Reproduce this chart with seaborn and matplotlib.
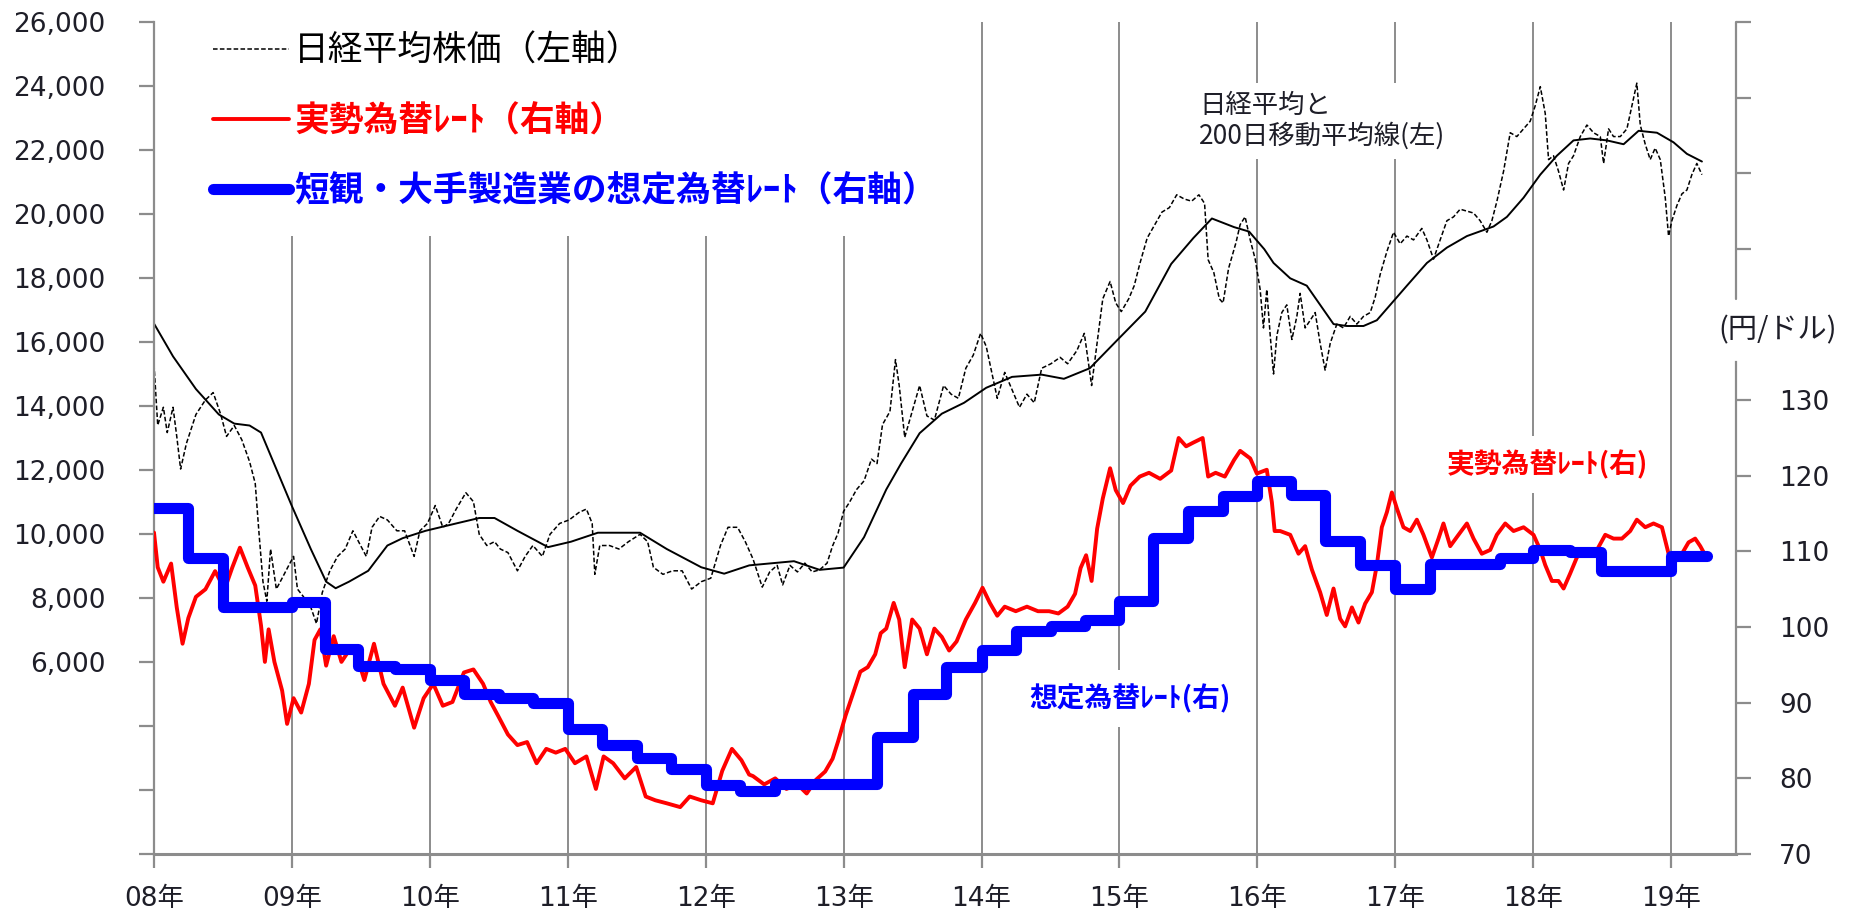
import matplotlib
matplotlib.use('Agg')
import matplotlib.pyplot as plt
import matplotlib.ticker as mticker
from matplotlib.lines import Line2D
import seaborn as sns

# ---- data (decimal years) ----
nikkei_t = [2008.0, 2008.027, 2008.068, 2008.096, 2008.138, 2008.165, 2008.193, 2008.235, 2008.304, 2008.373,
            2008.429, 2008.484, 2008.526, 2008.582, 2008.637, 2008.693, 2008.734, 2008.762, 2008.79, 2008.818,
            2008.845, 2008.887, 2008.929, 2008.97, 2009.012, 2009.04, 2009.081, 2009.137, 2009.178, 2009.22,
            2009.275, 2009.331, 2009.386, 2009.442, 2009.498, 2009.539, 2009.581, 2009.636, 2009.692, 2009.761,
            2009.817, 2009.886, 2009.928, 2009.983, 2010.039, 2010.094, 2010.136, 2010.191, 2010.261, 2010.316,
            2010.358, 2010.413, 2010.469, 2010.511, 2010.566, 2010.635, 2010.691, 2010.747, 2010.816, 2010.871,
            2010.941, 2011.01, 2011.08, 2011.135, 2011.177, 2011.196, 2011.232, 2011.302, 2011.371, 2011.44,
            2011.524, 2011.579, 2011.621, 2011.69, 2011.76, 2011.829, 2011.898, 2011.968, 2012.037, 2012.107,
            2012.162, 2012.231, 2012.287, 2012.343, 2012.41, 2012.464, 2012.518, 2012.558, 2012.611, 2012.665,
            2012.719, 2012.772, 2012.826, 2012.88, 2012.92, 2012.96, 2013.0, 2013.041, 2013.094, 2013.148,
            2013.202, 2013.242, 2013.282, 2013.336, 2013.376, 2013.403, 2013.443, 2013.497, 2013.551, 2013.604,
            2013.658, 2013.725, 2013.779, 2013.832, 2013.886, 2013.94, 2013.993, 2014.034, 2014.074, 2014.114,
            2014.168, 2014.221, 2014.275, 2014.329, 2014.382, 2014.436, 2014.503, 2014.57, 2014.624, 2014.691,
            2014.745, 2014.798, 2014.838, 2014.879, 2014.932, 2014.973, 2015.013, 2015.067, 2015.107, 2015.147,
            2015.201, 2015.254, 2015.308, 2015.362, 2015.415, 2015.469, 2015.523, 2015.576, 2015.617, 2015.643,
            2015.684, 2015.724, 2015.751, 2015.791, 2015.845, 2015.875, 2015.911, 2015.948, 2015.984, 2016.02,
            2016.044, 2016.068, 2016.093, 2016.117, 2016.141, 2016.177, 2016.213, 2016.25, 2016.286, 2016.31,
            2016.346, 2016.383, 2016.419, 2016.455, 2016.491, 2016.528, 2016.576, 2016.624, 2016.673, 2016.721,
            2016.769, 2016.818, 2016.854, 2016.89, 2016.939, 2016.987, 2017.035, 2017.084, 2017.132, 2017.192,
            2017.229, 2017.277, 2017.325, 2017.374, 2017.422, 2017.47, 2017.519, 2017.567, 2017.615, 2017.664,
            2017.7, 2017.736, 2017.785, 2017.833, 2017.881, 2017.93, 2017.978, 2018.014, 2018.051, 2018.087,
            2018.111, 2018.147, 2018.183, 2018.22, 2018.256, 2018.292, 2018.341, 2018.389, 2018.437, 2018.486,
            2018.51, 2018.546, 2018.582, 2018.631, 2018.679, 2018.715, 2018.751, 2018.776, 2018.812, 2018.848,
            2018.884, 2018.921, 2018.957, 2018.981, 2019.005, 2019.042, 2019.078, 2019.114, 2019.15, 2019.186,
            2019.223]
nikkei_v = [15300, 13400, 13960, 13170, 13960, 13050, 12030, 12830, 13735, 14190,
            14420, 13735, 13050, 13390, 12940, 12260, 11580, 9990, 8510, 7900,
            9530, 8280, 8620, 8960, 9300, 8280, 8055, 7710, 7200, 8170,
            8850, 9300, 9530, 10100, 9640, 9300, 10210, 10550, 10440, 10100,
            10100, 9300, 10100, 10330, 10890, 10210, 10330, 10780, 11290, 11010,
            9990, 9640, 9760, 9530, 9420, 8850, 9300, 9640, 9300, 9990,
            10330, 10440, 10670, 10780, 10330, 8740, 9640, 9640, 9530, 9760,
            9990, 9760, 8960, 8740, 8850, 8850, 8280, 8510, 8620, 9640,
            10210, 10210, 9760, 9220, 8340, 8815, 9020, 8410, 9020, 8815,
            9090, 8815, 8880, 9090, 9630, 10030, 10710, 10980, 11390, 11660,
            12340, 12200, 13420, 13830, 15450, 14640, 13020, 13830, 14640, 13690,
            13560, 14640, 14370, 14240, 15180, 15590, 16270, 15860, 15050, 14240,
            15050, 14510, 13960, 14370, 14100, 15180, 15320, 15520, 15320, 15730,
            16270, 14640, 15990, 17350, 17890, 17220, 16950, 17350, 17760, 18440,
            19250, 19650, 20060, 20200, 20600, 20470, 20400, 20600, 20330, 18570,
            18170, 17350, 17220, 18300, 19110, 19670, 19910, 19190, 18590, 17640,
            16440, 17640, 16200, 15000, 16200, 16920, 17160, 16080, 16800, 17520,
            16440, 16680, 16920, 15960, 15120, 15960, 16560, 16440, 16800, 16560,
            16800, 16920, 17400, 18110, 18830, 19430, 19070, 19310, 19190, 19550,
            19190, 18590, 19190, 19790, 19910, 20150, 20090, 20030, 19790, 19430,
            19790, 20390, 21340, 22540, 22420, 22660, 22900, 23380, 23980, 23140,
            21700, 21820, 21340, 20750, 21580, 21820, 22420, 22780, 22540, 22420,
            21580, 22660, 22420, 22420, 22660, 23380, 24090, 22780, 22180, 21700,
            22060, 21700, 20510, 19310, 19790, 20270, 20630, 20750, 21230, 21580,
            21230]

ma200_t = [2008.0, 2008.138, 2008.304, 2008.47, 2008.582, 2008.693, 2008.776, 2008.887, 2008.998, 2009.137,
           2009.248, 2009.317, 2009.414, 2009.553, 2009.692, 2009.803, 2009.969, 2010.191, 2010.358, 2010.469,
           2010.635, 2010.857, 2011.024, 2011.218, 2011.524, 2011.718, 2011.968, 2012.134, 2012.316, 2012.64,
           2012.826, 2013.0, 2013.148, 2013.309, 2013.416, 2013.551, 2013.712, 2013.873, 2014.034, 2014.221,
           2014.436, 2014.597, 2014.785, 2015.0, 2015.187, 2015.375, 2015.536, 2015.67, 2015.831, 2015.94,
           2016.05, 2016.117, 2016.238, 2016.358, 2016.455, 2016.552, 2016.648, 2016.769, 2016.866, 2016.963,
           2017.084, 2017.229, 2017.374, 2017.519, 2017.712, 2017.809, 2017.93, 2018.051, 2018.171, 2018.292,
           2018.413, 2018.534, 2018.655, 2018.764, 2018.897, 2019.017, 2019.114, 2019.223]
ma200_v = [16575, 15550, 14530, 13735, 13450, 13390, 13170, 12030, 10890, 9530,
           8510, 8305, 8510, 8850, 9640, 9870, 10100, 10330, 10500, 10500,
           10100, 9590, 9760, 10040, 10040, 9530, 8960, 8760, 9020, 9150,
           8880, 8950, 9900, 11390, 12200, 13150, 13760, 14100, 14570, 14910,
           14980, 14850, 15180, 16130, 16950, 18440, 19250, 19860, 19590, 19450,
           18900, 18470, 17990, 17760, 17160, 16560, 16500, 16500, 16680, 17160,
           17760, 18470, 18950, 19310, 19610, 19910, 20510, 21230, 21820, 22300,
           22360, 22300, 22180, 22600, 22540, 22240, 21880, 21640]

usdjpy_t = [2008.0, 2008.027, 2008.068, 2008.124, 2008.165, 2008.207, 2008.249, 2008.304, 2008.373, 2008.443,
            2008.512, 2008.568, 2008.623, 2008.679, 2008.734, 2008.776, 2008.804, 2008.831, 2008.873, 2008.929,
            2008.965, 2009.012, 2009.067, 2009.123, 2009.164, 2009.206, 2009.248, 2009.303, 2009.359, 2009.428,
            2009.484, 2009.525, 2009.595, 2009.664, 2009.747, 2009.803, 2009.886, 2009.955, 2010.025, 2010.094,
            2010.164, 2010.247, 2010.316, 2010.386, 2010.441, 2010.497, 2010.566, 2010.635, 2010.705, 2010.774,
            2010.844, 2010.913, 2010.982, 2011.052, 2011.135, 2011.204, 2011.26, 2011.329, 2011.413, 2011.496,
            2011.565, 2011.635, 2011.718, 2011.815, 2011.884, 2011.968, 2012.051, 2012.12, 2012.19, 2012.259,
            2012.315, 2012.343, 2012.424, 2012.504, 2012.585, 2012.665, 2012.732, 2012.799, 2012.866, 2012.92,
            2012.96, 2013.014, 2013.068, 2013.121, 2013.175, 2013.229, 2013.269, 2013.309, 2013.363, 2013.403,
            2013.443, 2013.497, 2013.551, 2013.604, 2013.658, 2013.712, 2013.765, 2013.819, 2013.886, 2013.953,
            2014.007, 2014.06, 2014.114, 2014.168, 2014.248, 2014.329, 2014.409, 2014.49, 2014.557, 2014.624,
            2014.678, 2014.718, 2014.758, 2014.798, 2014.838, 2014.879, 2014.932, 2014.973, 2015.026, 2015.08,
            2015.147, 2015.214, 2015.295, 2015.375, 2015.429, 2015.483, 2015.536, 2015.603, 2015.643, 2015.697,
            2015.764, 2015.831, 2015.875, 2015.948, 2015.996, 2016.068, 2016.105, 2016.125, 2016.165, 2016.238,
            2016.298, 2016.346, 2016.395, 2016.455, 2016.503, 2016.552, 2016.6, 2016.636, 2016.685, 2016.733,
            2016.781, 2016.83, 2016.866, 2016.902, 2016.939, 2016.975, 2017.011, 2017.059, 2017.108, 2017.156,
            2017.204, 2017.265, 2017.313, 2017.349, 2017.398, 2017.458, 2017.519, 2017.567, 2017.627, 2017.688,
            2017.736, 2017.797, 2017.857, 2017.93, 2018.002, 2018.051, 2018.087, 2018.135, 2018.183, 2018.22,
            2018.268, 2018.316, 2018.365, 2018.413, 2018.462, 2018.522, 2018.582, 2018.643, 2018.703, 2018.751,
            2018.812, 2018.872, 2018.933, 2018.981, 2019.03, 2019.078, 2019.126, 2019.174, 2019.211, 2019.235]
usdjpy_v = [112.5, 107.9, 106.0, 108.4, 102.6, 97.8, 101.2, 104.0, 105.0, 107.4,
            105.0, 107.9, 110.5, 107.9, 105.5, 100.2, 95.4, 99.7, 95.4, 91.6,
            87.2, 90.6, 88.7, 92.5, 98.3, 99.7, 94.9, 98.8, 95.4, 97.3,
            95.4, 93.0, 97.8, 92.5, 89.6, 92.0, 86.7, 90.6, 92.5, 89.6,
            90.1, 94.0, 94.4, 92.5, 90.1, 88.2, 85.8, 84.4, 84.8, 82.0,
            83.9, 83.4, 83.9, 82.0, 82.9, 78.6, 82.9, 82.0, 80.0, 81.5,
            77.6, 77.1, 76.7, 76.2, 77.6, 77.1, 76.7, 81.0, 83.9, 82.4,
            80.5, 80.3, 79.2, 80.0, 78.6, 79.2, 78.0, 79.8, 80.9, 82.6,
            84.9, 88.3, 91.2, 94.1, 94.7, 96.4, 99.2, 99.8, 103.2, 101.0,
            94.7, 101.0, 99.8, 96.4, 99.8, 98.7, 96.9, 98.1, 101.0, 103.2,
            105.2, 103.2, 101.5, 102.7, 102.1, 102.7, 102.1, 102.1, 101.8, 102.7,
            104.4, 107.8, 109.5, 106.1, 113.0, 117.0, 121.0, 118.1, 116.4, 118.7,
            119.9, 120.4, 119.6, 120.7, 125.0, 123.9, 124.4, 125.0, 119.9, 120.4,
            119.9, 122.1, 123.3, 122.3, 120.3, 120.8, 116.5, 112.7, 112.7, 112.2,
            109.7, 110.7, 107.6, 104.6, 101.6, 105.1, 101.1, 100.1, 102.6, 100.6,
            103.1, 104.6, 108.2, 113.2, 115.2, 117.8, 115.7, 113.2, 112.7, 114.2,
            112.2, 109.2, 111.7, 113.7, 110.7, 112.2, 113.7, 111.7, 109.7, 110.2,
            112.2, 113.7, 112.7, 113.2, 112.2, 110.2, 108.2, 106.1, 106.1, 105.1,
            107.1, 109.2, 110.2, 109.7, 110.2, 112.2, 111.7, 111.7, 112.7, 114.2,
            113.2, 113.7, 113.2, 109.7, 108.7, 109.7, 111.2, 111.7, 110.7, 109.9]

tankan_t = [2008.0, 2008.25, 2008.5, 2009.0, 2009.24, 2009.48, 2009.75, 2010.0, 2010.25, 2010.5,
            2010.75, 2011.0, 2011.25, 2011.5, 2011.75, 2012.0, 2012.25, 2012.5, 2012.75, 2013.24,
            2013.5, 2013.74, 2014.0, 2014.25, 2014.5, 2014.75, 2015.0, 2015.24, 2015.5, 2015.75,
            2016.0, 2016.24, 2016.49, 2016.745, 2017.0, 2017.25, 2017.76, 2018.0, 2018.27, 2018.49,
            2019.0, 2019.26]
tankan_v = [115.8, 109.1, 102.6, 103.3, 97.1, 94.9, 94.4, 93.0, 91.1, 90.6,
            89.9, 86.5, 84.4, 82.7, 81.2, 79.1, 78.3, 79.2, 79.3, 85.5,
            91.2, 94.7, 97.0, 99.5, 100.1, 100.9, 103.5, 111.8, 115.3, 117.3,
            119.3, 117.5, 111.4, 108.2, 105.1, 108.4, 109.2, 110.2, 109.9, 107.4,
            109.4, 109.4]

years = list(range(2008, 2020))
year_labels = ['%02d年' % (y % 100) for y in years]
legend_labels = ['日経平均株価（左軸）', '実勢為替ﾚｰﾄ（右軸）', '短観・大手製造業の想定為替ﾚｰﾄ（右軸）']

# ---- style ----
sns.set_theme(style='white')
plt.rcParams['font.family'] = ['DejaVu Sans', 'Noto Sans CJK JP']
jp = ['Noto Sans CJK JP', 'DejaVu Sans']
GRAY = '#8c8c8c'
TXT = '#1e1e28'

fig = plt.figure(figsize=(18.54, 9.16), dpi=100)
ax = fig.add_axes([154 / 1854, 1 - 854 / 916, (1736 - 154) / 1854, (854 - 22) / 916])
ax2 = ax.twinx()

x_end = 2019.47
ax.set_xlim(2008, x_end)
ax.set_ylim(0, 26000)
ax2.set_ylim(70, 180)

# year gridlines
for y in years[1:]:
    ax.axvline(y, color=GRAY, lw=1.4, zorder=0)

# left axis: Nikkei and 200-day MA
sns.lineplot(x=nikkei_t, y=nikkei_v, ax=ax, color='black', lw=1.1,
             linestyle=(0, (3, 1.5)), errorbar=None, legend=False)
sns.lineplot(x=ma200_t, y=ma200_v, ax=ax, color='black', lw=1.4, errorbar=None, legend=False)

# right axis: actual rate and Tankan assumed rate
sns.lineplot(x=usdjpy_t, y=usdjpy_v, ax=ax2, color='#ff0000', lw=2.8, errorbar=None, legend=False)
sns.lineplot(x=tankan_t, y=tankan_v, ax=ax2, color='#0000ff', lw=8, drawstyle='steps-post',
             solid_joinstyle='round', solid_capstyle='round', errorbar=None, legend=False)

# spines
for a in (ax, ax2):
    a.spines['top'].set_visible(False)
    a.set_xlabel('')
    a.set_ylabel('')
ax.spines['right'].set_visible(False)
ax2.spines['left'].set_visible(False)
ax2.spines['bottom'].set_visible(False)
ax.spines['left'].set_color(GRAY)
ax.spines['left'].set_linewidth(1.6)
ax.spines['bottom'].set_color(GRAY)
ax.spines['bottom'].set_linewidth(2.2)
ax2.spines['right'].set_color(GRAY)
ax2.spines['right'].set_linewidth(1.6)
ax2.spines['right'].set_bounds(70, 135)
ax2.axvline(x_end, ymin=(143.4 - 70) / 110, ymax=1, color=GRAY, lw=1.6, clip_on=False)

# ticks
ax.set_xticks(years)
ax.set_xticklabels(year_labels)
ax.set_yticks(range(0, 26001, 2000))
ax.yaxis.set_major_formatter(mticker.FuncFormatter(lambda v, p: f'{int(v):,}' if v >= 6000 else ''))
ax2.set_yticks([70, 80, 90, 100, 110, 120, 130, 150, 160, 170, 180])
ax2.yaxis.set_major_formatter(mticker.FuncFormatter(lambda v, p: f'{int(v)}' if v <= 130 else ''))
ax.tick_params(axis='x', direction='out', length=10, width=1.6, color=GRAY, pad=13,
               labelsize=19, labelcolor=TXT, bottom=True)
ax.tick_params(axis='y', direction='out', length=11, width=1.6, color=GRAY, pad=24,
               labelsize=19, labelcolor=TXT, left=True)
ax2.tick_params(axis='y', direction='out', length=11, width=1.6, color=GRAY, pad=20,
                labelsize=19, labelcolor=TXT, right=True)

# text labels
box = dict(boxstyle='square,pad=0.35', fc='white', ec='none')
ax.text(2015.578, 23810, '日経平均と\n200日移動平均線(左)', ha='left', va='top', fontsize=19,
        family=jp, color=TXT, linespacing=1.15, bbox=box, zorder=3)
ax2.text(2018.10, 121.5, '実勢為替ﾚｰﾄ(右)', ha='center', va='center', fontsize=20,
         family=jp, color='#ff0000', fontweight='bold', bbox=dict(boxstyle='square,pad=0.5', fc='white', ec='none'), zorder=3)
ax2.text(2015.078, 90.6, '想定為替ﾚｰﾄ(右)', ha='center', va='center', fontsize=20,
         family=jp, color='#0000ff', fontweight='bold', bbox=dict(boxstyle='square,pad=0.5', fc='white', ec='none'), zorder=3)
ax2.text(2019.77, 139.2, '(円/ドル)', ha='center', va='center', fontsize=21,
         family=jp, color=TXT, clip_on=False)

# legend
handles = [Line2D([], [], color='black', lw=1.1, linestyle=(0, (3, 1.5))),
           Line2D([], [], color='#ff0000', lw=2.8),
           Line2D([], [], color='#0000ff', lw=8, solid_capstyle='round')]
leg = ax2.legend(handles, legend_labels, loc='upper left', bbox_to_anchor=(185 / 1854, 1 - 6 / 916),
                 bbox_transform=fig.transFigure, frameon=True, facecolor='white', edgecolor='none',
                 framealpha=1, fancybox=False, prop={'family': jp, 'size': 25},
                 handlelength=2.2, handletextpad=0.15, labelspacing=1.0, borderpad=0.8, borderaxespad=0)
leg.set_zorder(5)
for txt, col, wt in zip(leg.get_texts(), ['black', '#ff0000', '#0000ff'], ['normal', 'bold', 'bold']):
    txt.set_color(col)
    txt.set_fontweight(wt)

fig.savefig('out.png', dpi=100, facecolor='white')
